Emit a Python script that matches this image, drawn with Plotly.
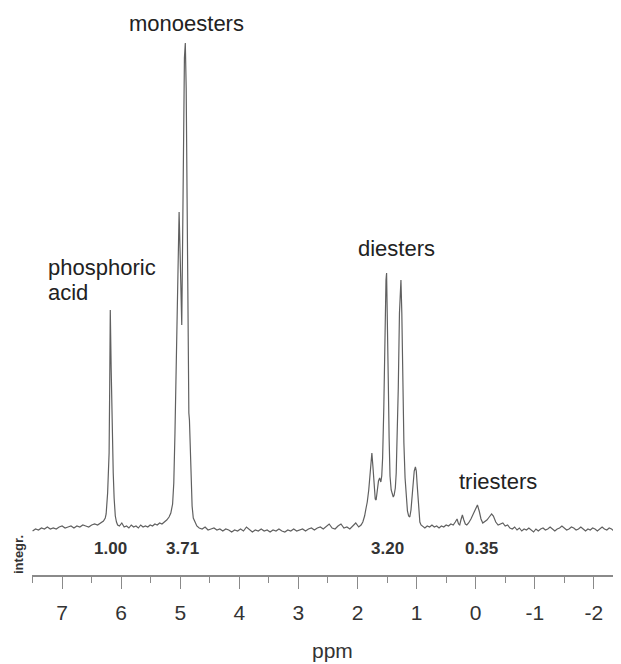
import plotly.graph_objects as go

# ---- spectrum data (ppm, intensity in arbitrary units) ----
base1_ppm = [7.50, 7.45, 7.40, 7.35, 7.30, 7.25, 7.20, 7.15, 7.10, 7.05, 7.00, 6.95,
             6.90, 6.85, 6.80, 6.75, 6.70, 6.65, 6.60, 6.55, 6.50, 6.45, 6.40, 6.35]
base1_int = [-3, -1, -2, 0, -1, 1, -1, 0, -1, 1, 2, 0,
             1, 2, 0, 2, 1, 3, 2, 1, 3, 4, 3, 5]

phos_ppm = [6.30, 6.27, 6.255, 6.23, 6.205, 6.195, 6.185, 6.17, 6.155, 6.135, 6.12, 6.10, 6.08, 6.06]
phos_int = [7, 10, 14, 35, 75, 140, 218, 160, 100, 55, 30, 12, 6, 3]

base2_ppm = [6.03, 5.99, 5.95, 5.91, 5.87, 5.83, 5.79, 5.75, 5.71, 5.67, 5.63, 5.59,
             5.55, 5.51, 5.47, 5.43, 5.39, 5.35, 5.31]
base2_int = [2, 5, 1, 2, 0, 3, 1, 2, 0, 3, 1, 2, 1, 3, 2, 4, 3, 5, 4]

mono_ppm = [5.27, 5.23, 5.19, 5.16, 5.13, 5.11, 5.09, 5.07, 5.05, 5.035, 5.02, 5.005,
            4.99, 4.975, 4.96, 4.945, 4.93, 4.915, 4.90, 4.885, 4.87, 4.855, 4.845,
            4.83, 4.815, 4.80, 4.78, 4.75, 4.72]
mono_int = [6, 8, 11, 15, 24, 45, 95, 160, 235, 290, 316, 280,
            230, 203, 290, 400, 470, 485, 440, 330, 200, 115, 108,
            72, 40, 22, 10, 5, 2]

base3_ppm = [4.68, 4.63, 4.58, 4.53, 4.48, 4.43, 4.38, 4.33, 4.28, 4.23, 4.18, 4.13,
             4.08, 4.03, 3.98, 3.93, 3.88, 3.83, 3.78, 3.73, 3.68, 3.63, 3.58, 3.53,
             3.48, 3.43, 3.38, 3.33, 3.28, 3.23, 3.18, 3.13, 3.08, 3.03, 2.98, 2.93,
             2.88, 2.83, 2.78, 2.73, 2.68, 2.63, 2.58, 2.53, 2.48, 2.43, 2.38, 2.33,
             2.28, 2.23, 2.18, 2.13, 2.08, 2.03, 1.98]
base3_int = [0, -1, 1, -2, -1, 0, -2, -1, -3, -1, -2, -4,
             -2, -3, -1, -3, 1, -2, -4, -2, -3, -1, -3, -2,
             -4, -2, -3, -1, -3, -4, -2, -3, -1, -3, -2, -1,
             -3, -1, 0, -2, 0, 1, -1, 2, 4, 0, -1, 2,
             4, 0, 1, -1, 2, 5, 1]

di_ppm = [1.94, 1.91, 1.88, 1.855, 1.835, 1.81, 1.79, 1.775, 1.757, 1.74, 1.72, 1.70,
          1.685, 1.665, 1.645, 1.625, 1.605, 1.59, 1.575, 1.555, 1.535, 1.518, 1.508,
          1.495, 1.48, 1.465, 1.45, 1.43, 1.41, 1.395, 1.38, 1.36, 1.345, 1.33, 1.31,
          1.29, 1.275, 1.265, 1.25, 1.235, 1.215, 1.195, 1.175, 1.155, 1.135, 1.115,
          1.095, 1.075, 1.06, 1.04, 1.02, 1.005, 0.99, 0.975, 0.96, 0.945, 0.925,
          0.905, 0.885]
di_int = [3, 6, 12, 20, 26, 38, 55, 68, 75, 62, 40, 29,
          28, 38, 47, 50, 46, 52, 70, 120, 200, 248, 255,
          220, 150, 90, 52, 38, 32, 31, 33, 40, 55, 85, 140,
          215, 246, 248, 215, 150, 85, 50, 28, 17, 12, 11,
          18, 32, 45, 57, 61, 57, 43, 28, 14, 6, 3,
          2, 1]

tri_ppm = [0.86, 0.82, 0.78, 0.74, 0.70, 0.66, 0.62, 0.58, 0.54, 0.50, 0.46, 0.42,
           0.38, 0.345, 0.315, 0.29, 0.27, 0.25, 0.225, 0.20, 0.175, 0.15, 0.12,
           0.08, 0.04, 0.01, -0.03, -0.06, -0.09, -0.12, -0.15, -0.19, -0.23, -0.27,
           -0.30, -0.34, -0.38, -0.42, -0.46, -0.50]
tri_int = [0, 2, 1, 3, 1, 2, 0, 2, 1, 3, 2, 4,
           3, 6, 9, 4, 3, 8, 13, 8, 4, 3, 5,
           9, 14, 19, 23, 17, 9, 5, 6, 8, 11, 14,
           12, 6, 3, 4, 5, 2]

base4_ppm = [-0.54, -0.58, -0.62, -0.66, -0.70, -0.74, -0.78, -0.82, -0.86, -0.90,
             -0.94, -0.98, -1.02, -1.06, -1.10, -1.14, -1.18, -1.22, -1.26, -1.30,
             -1.34, -1.38, -1.42, -1.46, -1.50, -1.54, -1.58, -1.62, -1.66, -1.70,
             -1.74, -1.78, -1.82, -1.86, -1.90, -1.94, -1.98, -2.02, -2.06, -2.10,
             -2.14, -2.18, -2.22, -2.26, -2.30, -2.34, -2.38, -2.42, -2.46]
base4_int = [3, 0, -1, 1, -2, 0, -3, -1, -2, 0,
             -2, -4, -1, -3, -1, 0, -2, -1, 1, -1,
             -3, -1, 0, 2, 0, -2, -1, 1, 0, -2,
             -1, 1, -1, -3, -1, -2, 0, -1, -3, -1,
             1, -1, -2, 0, -1, -3, -1, 0, -1]

# ---- labels ----
tick_vals = [7, 6, 5, 4, 3, 2, 1, 0, -1, -2]
tick_text = ["7", "6", "5", "4", "3", "2", "1", "0", "-1", "-2"]
minor_vals = [7.5, 6.5, 5.5, 4.5, 3.5, 2.5, 1.5, 0.5, -0.5, -1.5]

group_labels = ["monoesters", "phosphoric", "acid", "diesters", "triesters"]
group_x = [4.90, 7.28, 7.28, 1.335, -0.38]
group_y = [505, 261, 236, 280, 47]
group_anchor = ["center", "left", "left", "center", "center"]

integral_text = ["1.00", "3.71", "3.20", "0.35"]
integral_x = [6.18, 4.97, 1.49, -0.10]

ppm = base1_ppm + phos_ppm + base2_ppm + mono_ppm + base3_ppm + di_ppm + tri_ppm + base4_ppm
inten = base1_int + phos_int + base2_int + mono_int + base3_int + di_int + tri_int + base4_int

fig = go.Figure()
fig.add_trace(go.Scatter(x=ppm, y=inten, mode="lines",
                         line=dict(color="#606060", width=1.2),
                         hoverinfo="skip", showlegend=False))

FONT = "Liberation Sans, Arial, sans-serif"

for t, x, y, a in zip(group_labels, group_x, group_y, group_anchor):
    fig.add_annotation(x=x, y=y, text=t, showarrow=False, xanchor=a, yanchor="middle",
                       font=dict(family=FONT, size=22, color="#222222"))

for t, x in zip(integral_text, integral_x):
    fig.add_annotation(x=x, y=-20, text="<b>%s</b>" % t, showarrow=False,
                       xanchor="center", yanchor="middle",
                       font=dict(family=FONT, size=17, color="#333333"))

# plot area spans 589 px horizontally and 567 px vertically
fig.add_annotation(xref="paper", x=(18 - 32) / 589, y=-27, text="<b>integr.</b>", showarrow=False,
                   textangle=-90, xanchor="center", yanchor="middle",
                   font=dict(family=FONT, size=13, color="#333333"))

fig.add_annotation(xref="paper", yref="paper", x=(332 - 32) / 589, y=(575 - 650) / 567,
                   text="ppm", showarrow=False, xanchor="center", yanchor="middle",
                   font=dict(family=FONT, size=21, color="#333333"))

fig.update_layout(
    width=613, height=656,
    margin=dict(l=24, r=0, t=0, b=89),
    paper_bgcolor="white", plot_bgcolor="white",
    showlegend=False,
    xaxis=dict(range=[7.51, -2.46], tickmode="array", tickvals=tick_vals, ticktext=tick_text,
               showline=True, linecolor="#8a8a8a", linewidth=1.5,
               ticks="outside", ticklen=12, tickwidth=1.3, tickcolor="#8a8a8a",
               ticklabelstandoff=6,
               minor=dict(tickmode="array", tickvals=minor_vals,
                          ticks="outside", ticklen=6, tickwidth=1.2, tickcolor="#8a8a8a"),
               showgrid=False, zeroline=False,
               tickfont=dict(family=FONT, size=21, color="#333333")),
    yaxis=dict(range=[-47, 520], visible=False, showgrid=False, zeroline=False),
)

fig.write_html("out.html")
